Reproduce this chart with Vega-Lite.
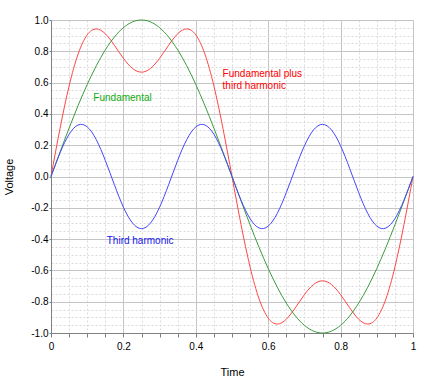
{
  "$schema": "https://vega.github.io/schema/vega-lite/v6.json",
  "width": 362,
  "height": 313,
  "autosize": "none",
  "padding": {"left": 51, "top": 20, "right": 17, "bottom": 49},
  "background": "white",
  "config": {"view": {"stroke": null}, "font": "Liberation Sans"},
  "datasets": {
    "waves": [
      {"t": 0, "f": 0, "h": 0, "s": 0},
      {"t": 0.025, "f": 0.1564, "h": 0.1513, "s": 0.3077},
      {"t": 0.05, "f": 0.309, "h": 0.2697, "s": 0.5787},
      {"t": 0.075, "f": 0.454, "h": 0.3292, "s": 0.7832},
      {"t": 0.1, "f": 0.5878, "h": 0.317, "s": 0.9048},
      {"t": 0.125, "f": 0.7071, "h": 0.2357, "s": 0.9428},
      {"t": 0.15, "f": 0.809, "h": 0.103, "s": 0.912},
      {"t": 0.175, "f": 0.891, "h": -0.0521, "s": 0.8389},
      {"t": 0.2, "f": 0.9511, "h": -0.1959, "s": 0.7552},
      {"t": 0.225, "f": 0.9877, "h": -0.297, "s": 0.6907},
      {"t": 0.25, "f": 1, "h": -0.3333, "s": 0.6667},
      {"t": 0.275, "f": 0.9877, "h": -0.297, "s": 0.6907},
      {"t": 0.3, "f": 0.9511, "h": -0.1959, "s": 0.7552},
      {"t": 0.325, "f": 0.891, "h": -0.0521, "s": 0.8389},
      {"t": 0.35, "f": 0.809, "h": 0.103, "s": 0.912},
      {"t": 0.375, "f": 0.7071, "h": 0.2357, "s": 0.9428},
      {"t": 0.4, "f": 0.5878, "h": 0.317, "s": 0.9048},
      {"t": 0.425, "f": 0.454, "h": 0.3292, "s": 0.7832},
      {"t": 0.45, "f": 0.309, "h": 0.2697, "s": 0.5787},
      {"t": 0.475, "f": 0.1564, "h": 0.1513, "s": 0.3077},
      {"t": 0.5, "f": 0, "h": 0, "s": 0},
      {"t": 0.525, "f": -0.1564, "h": -0.1513, "s": -0.3077},
      {"t": 0.55, "f": -0.309, "h": -0.2697, "s": -0.5787},
      {"t": 0.575, "f": -0.454, "h": -0.3292, "s": -0.7832},
      {"t": 0.6, "f": -0.5878, "h": -0.317, "s": -0.9048},
      {"t": 0.625, "f": -0.7071, "h": -0.2357, "s": -0.9428},
      {"t": 0.65, "f": -0.809, "h": -0.103, "s": -0.912},
      {"t": 0.675, "f": -0.891, "h": 0.0521, "s": -0.8389},
      {"t": 0.7, "f": -0.9511, "h": 0.1959, "s": -0.7552},
      {"t": 0.725, "f": -0.9877, "h": 0.297, "s": -0.6907},
      {"t": 0.75, "f": -1, "h": 0.3333, "s": -0.6667},
      {"t": 0.775, "f": -0.9877, "h": 0.297, "s": -0.6907},
      {"t": 0.8, "f": -0.9511, "h": 0.1959, "s": -0.7552},
      {"t": 0.825, "f": -0.891, "h": 0.0521, "s": -0.8389},
      {"t": 0.85, "f": -0.809, "h": -0.103, "s": -0.912},
      {"t": 0.875, "f": -0.7071, "h": -0.2357, "s": -0.9428},
      {"t": 0.9, "f": -0.5878, "h": -0.317, "s": -0.9048},
      {"t": 0.925, "f": -0.454, "h": -0.3292, "s": -0.7832},
      {"t": 0.95, "f": -0.309, "h": -0.2697, "s": -0.5787},
      {"t": 0.975, "f": -0.1564, "h": -0.1513, "s": -0.3077},
      {"t": 1, "f": 0, "h": 0, "s": 0}
    ],
    "notes": [
      {"t": 0.474, "v": 0.634, "label": "Fundamental plus\nthird harmonic", "series": "s"},
      {"t": 0.117, "v": 0.484, "label": "Fundamental", "series": "f"},
      {"t": 0.154, "v": -0.433, "label": "Third harmonic", "series": "h"}
    ]
  },
  "resolve": {"axis": {"x": "independent", "y": "independent"}, "scale": {"color": "independent"}},
  "layer": [
    {
      "data": {"name": "notes"},
      "mark": {"type": "text", "align": "left", "baseline": "alphabetic", "fontSize": 10, "lineBreak": "\n", "lineHeight": 12},
      "encoding": {
        "x": {"field": "t", "type": "quantitative", "scale": {"domain": [0, 1], "nice": false, "zero": false},
          "axis": {"orient": "bottom", "values": [0.05, 0.1, 0.15, 0.25, 0.3, 0.35, 0.45, 0.5, 0.55, 0.65, 0.7, 0.75, 0.85, 0.9, 0.95],
            "grid": true, "gridDash": [2, 2], "gridColor": "#dadada", "gridWidth": 1, "labels": false, "domain": false,
            "ticks": true, "tickSize": 4, "tickColor": "#808080", "title": null}},
        "y": {"field": "v", "type": "quantitative", "scale": {"domain": [-1, 1], "nice": false, "zero": false},
          "axis": {"orient": "left", "values": [-0.95, -0.9, -0.85, -0.75, -0.7, -0.65, -0.55, -0.5, -0.45, -0.35, -0.3, -0.25, -0.15, -0.1, -0.05, 0.05, 0.1, 0.15, 0.25, 0.3, 0.35, 0.45, 0.5, 0.55, 0.65, 0.7, 0.75, 0.85, 0.9, 0.95],
            "grid": true, "gridDash": [2, 2], "gridColor": "#dadada", "gridWidth": 1, "labels": false, "domain": false,
            "ticks": false, "title": null}},
        "text": {"field": "label"},
        "color": {"field": "series", "type": "nominal", "scale": {"domain": ["s", "f", "h"], "range": ["#ff0000", "#11aa11", "#1414ee"]}, "legend": null}
      }
    },
    {
      "data": {"name": "waves"},
      "transform": [{"fold": ["s", "f", "h"], "as": ["series", "value"]}],
      "mark": {"type": "line", "strokeWidth": 1, "interpolate": "natural"},
      "encoding": {
        "x": {"field": "t", "type": "quantitative", "scale": {"domain": [0, 1], "nice": false, "zero": false},
          "axis": {"orient": "bottom", "values": [0, 0.2, 0.4, 0.6, 0.8, 1], "format": "~g", "grid": true, "gridColor": "#c4c4c4",
            "domain": true, "domainColor": "#808080", "ticks": true, "tickSize": 4, "tickColor": "#808080",
            "labelFlush": false, "labelOverlap": false,
            "labelFontSize": 10, "labelColor": "#000000", "labelPadding": 4, "title": "Time", "titleFontSize": 11,
            "titleFontWeight": "normal", "titleColor": "#000000", "titlePadding": 15}},
        "y": {"field": "value", "type": "quantitative", "scale": {"domain": [-1, 1], "nice": false, "zero": false},
          "axis": {"orient": "left", "values": [-1, -0.8, -0.6, -0.4, -0.2, 0, 0.2, 0.4, 0.6, 0.8, 1],
            "labelExpr": "datum.value < -0.0001 ? '-' + format(-datum.value, '.1f') : format(datum.value, '.1f')",
            "labelFlush": false, "labelOverlap": false,
            "grid": true, "gridColor": "#c4c4c4", "domain": true, "domainColor": "#808080", "ticks": true, "tickSize": 2,
            "tickColor": "#808080", "labelFontSize": 10, "labelColor": "#000000", "labelPadding": 1,
            "title": "Voltage", "titleFontSize": 11, "titleFontWeight": "normal", "titleColor": "#000000", "titlePadding": 16}},
        "color": {"field": "series", "type": "nominal", "scale": {"domain": ["s", "f", "h"], "range": ["#ff4646", "#3c9c3c", "#4646ff"]}, "legend": null},
        "order": {"field": "series"}
      }
    }
  ]
}
